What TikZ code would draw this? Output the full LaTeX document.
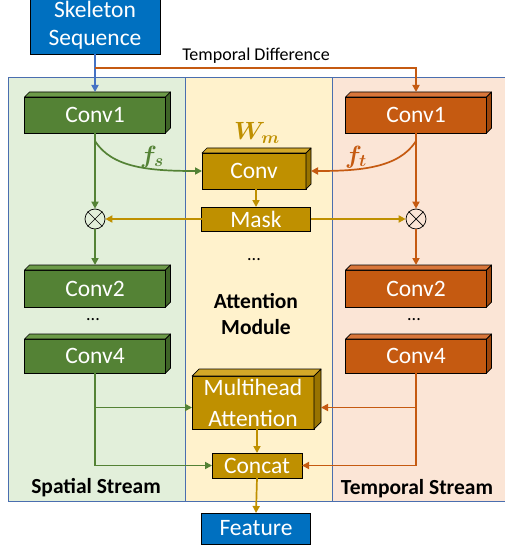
\documentclass[tikz,border=0pt]{standalone}
\usepackage{fontspec}
\setmainfont{Carlito}
\usepackage{amsmath,bm}
\usetikzlibrary{arrows.meta}

\definecolor{spatialbg}{HTML}{E2EFDA}
\definecolor{attnbg}{HTML}{FFF2CC}
\definecolor{temporalbg}{HTML}{FBE5D6}
\definecolor{panelblue}{HTML}{4A6EAF}
\definecolor{inputblue}{HTML}{0070C0}
\definecolor{lineblue}{HTML}{4472C4}
\definecolor{streamgreen}{HTML}{548235}
\definecolor{greentop}{HTML}{6C9A48}
\definecolor{greenside}{HTML}{3F6427}
\definecolor{streamorange}{HTML}{C55A11}
\definecolor{orangetop}{HTML}{D8763A}
\definecolor{orangeside}{HTML}{9E470D}
\definecolor{attngold}{HTML}{BF9000}
\definecolor{goldtop}{HTML}{D3A828}
\definecolor{goldside}{HTML}{987300}

% top and side faces of a block: node, depth, top colour, side colour
\newcommand{\boxfaces}[4]{%
  \draw[facet, fill=#3] (#1.north west) -- ++(#2,-#2)
      -- ([shift={(#2,-#2)}]#1.north east) -- (#1.north east) -- cycle;
  \draw[facet, fill=#4] (#1.north east) -- ++(#2,-#2)
      -- ([shift={(#2,-#2)}]#1.south east) -- (#1.south east) -- cycle;
}

\begin{document}
\begin{tikzpicture}[x=1pt,y=-1pt,
    block/.style={draw=black, line width=0.7pt, text=white, inner sep=0pt,
      outer sep=0pt, align=center, font=\fontsize{23.5}{28}\selectfont},
    facet/.style={draw=black, line width=0.7pt, line join=round},
    panel/.style={draw=panelblue, line width=0.9pt},
    flow/.style={line width=1.7pt, -{Triangle[length=7pt,width=7pt]}},
    streamtext/.style={font=\fontsize{21.5}{26}\selectfont\bfseries},
    mathtext/.style={font=\fontsize{24}{28}\selectfont},
    mult/.style={draw=black, line width=0.7pt, circle, minimum size=20pt,
      inner sep=0pt, fill=none}]

    \useasboundingbox (0,0) rectangle (505,548);

    % let's define some key values
    \def\xs{95}
    \def\xt{416}
    \def\xm{256}
    \def\convw{141}

    % stream panels
    \draw[panel, fill=spatialbg] (8,77) rectangle (185,501);
    \draw[panel, fill=attnbg] (185,77) rectangle (332,501);
    \draw[panel, fill=temporalbg] (332,77) rectangle (507,501);

    % input
    \node[block, fill=inputblue, minimum width=130pt, minimum height=58pt]
        (skel) at (\xs,25) {Skeleton\\Sequence};

    % spatial stream
    \node[block, fill=streamgreen, minimum width=\convw, minimum height=36pt]
        (conv1s) at (\xs,115) {Conv1};
    \boxfaces{conv1s}{5}{greentop}{greenside}
    \node[mult] (muls) at (\xs,219) {};
    \draw[line width=0.7pt] (muls.north west) -- (muls.south east)
        (muls.north east) -- (muls.south west);
    \node[block, fill=streamgreen, minimum width=\convw, minimum height=37pt]
        (conv2s) at (\xs,288.5) {Conv2};
    \boxfaces{conv2s}{5}{greentop}{greenside}
    \node[font=\fontsize{18}{22}\selectfont] (dotss) at (93,320) {...};
    \node[block, fill=streamgreen, minimum width=\convw, minimum height=34pt]
        (conv4s) at (\xs,356) {Conv4};
    \boxfaces{conv4s}{5}{greentop}{greenside}

    % temporal stream
    \node[block, fill=streamorange, minimum width=\convw, minimum height=36pt]
        (conv1t) at (\xt,115) {Conv1};
    \boxfaces{conv1t}{5}{orangetop}{orangeside}
    \node[mult] (mult) at (\xt,219) {};
    \draw[line width=0.7pt] (mult.north west) -- (mult.south east)
        (mult.north east) -- (mult.south west);
    \node[block, fill=streamorange, minimum width=\convw, minimum height=37pt]
        (conv2t) at (\xt,288.5) {Conv2};
    \boxfaces{conv2t}{5}{orangetop}{orangeside}
    \node[font=\fontsize{18}{22}\selectfont] (dotst) at (414,320) {...};
    \node[block, fill=streamorange, minimum width=\convw, minimum height=34pt]
        (conv4t) at (\xt,356) {Conv4};
    \boxfaces{conv4t}{5}{orangetop}{orangeside}

    % attention module
    \node[mathtext, text=attngold] (wm) at (257,133) {$\bm{W_m}$};
    \node[block, fill=attngold, minimum width=104pt, minimum height=36pt]
        (convm) at (254,171) {Conv};
    \boxfaces{convm}{5}{goldtop}{goldside}
    \node[block, fill=attngold, minimum width=109pt, minimum height=24pt]
        (mask) at (\xm,219) {Mask};
    \node[font=\fontsize{18}{22}\selectfont] (dotsm) at (254,260) {...};
    \node[align=center, font=\fontsize{21.5}{26}\selectfont\bfseries]
        (attn) at (\xm,314) {Attention\\Module};
    \node[block, fill=attngold, minimum width=122pt, minimum height=53pt,
        font=\fontsize{23.5}{31}\selectfont]
        (mh) at (253,402.5) {Multihead\\Attention};
    \boxfaces{mh}{7}{goldtop}{goldside}
    \node[block, fill=attngold, minimum width=90pt, minimum height=25pt]
        (concat) at (257,465.5) {Concat};

    % output
    \node[block, fill=inputblue, minimum width=109pt, minimum height=31pt]
        (feature) at (\xm,528.5) {Feature};

    % stream names
    \node[streamtext] (sname) at (96,488) {Spatial Stream};
    \node[streamtext] (tname) at (417,489) {Temporal Stream};
    \node[font=\fontsize{18}{22}\selectfont] (tdiff) at (256,56) {Temporal Difference};
    \node[mathtext, text=streamgreen] (fs) at (152,157) {$\bm{f_s}$};
    \node[mathtext, text=streamorange] (ft) at (356,157) {$\bm{f_t}$};

    % helper points
    \coordinate (split) at (\xs,68);
    \coordinate (fsstart) at (\xs,141);
    \coordinate (ftstart) at (\xt,141);
    \coordinate (convmside) at ([xshift=5pt]convm.east);
    \coordinate (mhin) at ([yshift=-5pt]mh.west);
    \coordinate (mhside) at ([xshift=7pt,yshift=-5pt]mh.east);

    % input arrows
    \draw[flow, lineblue] (skel.south) -- ([yshift=5pt]conv1s.north);
    \draw[flow, streamorange] (split) -| ([yshift=5pt]conv1t.north);

    % spatial stream arrows
    \draw[flow, streamgreen] (conv1s.south) -- (muls.north);
    \draw[flow, streamgreen] (fsstart) .. controls (112,168) and (150,171) .. (convm.west);
    \draw[flow, streamgreen] (muls.south) -- ([yshift=5pt]conv2s.north);
    \draw[flow, streamgreen] (conv4s.south) |- (concat.west);
    \draw[flow, streamgreen] (conv4s.south |- mhin) -- (mhin);

    % temporal stream arrows
    \draw[flow, streamorange] (conv1t.south) -- (mult.north);
    \draw[flow, streamorange] (ftstart) .. controls (399,168) and (360,171) .. (convmside);
    \draw[flow, streamorange] (mult.south) -- ([yshift=5pt]conv2t.north);
    \draw[flow, streamorange] (conv4t.south) |- (concat.east);
    \draw[flow, streamorange] (conv4t.south |- mhside) -- (mhside);

    % attention arrows
    \draw[flow, attngold] (mask.north |- convm.south) -- (mask.north);
    \draw[flow, attngold] (mask.west) -- (muls.east);
    \draw[flow, attngold] (mask.east) -- (mult.west);
    \draw[flow, attngold] (concat.north |- mh.south) -- (concat.north);
    \draw[flow, attngold] (concat.south) -- (feature.north);

\end{tikzpicture}
\end{document}
